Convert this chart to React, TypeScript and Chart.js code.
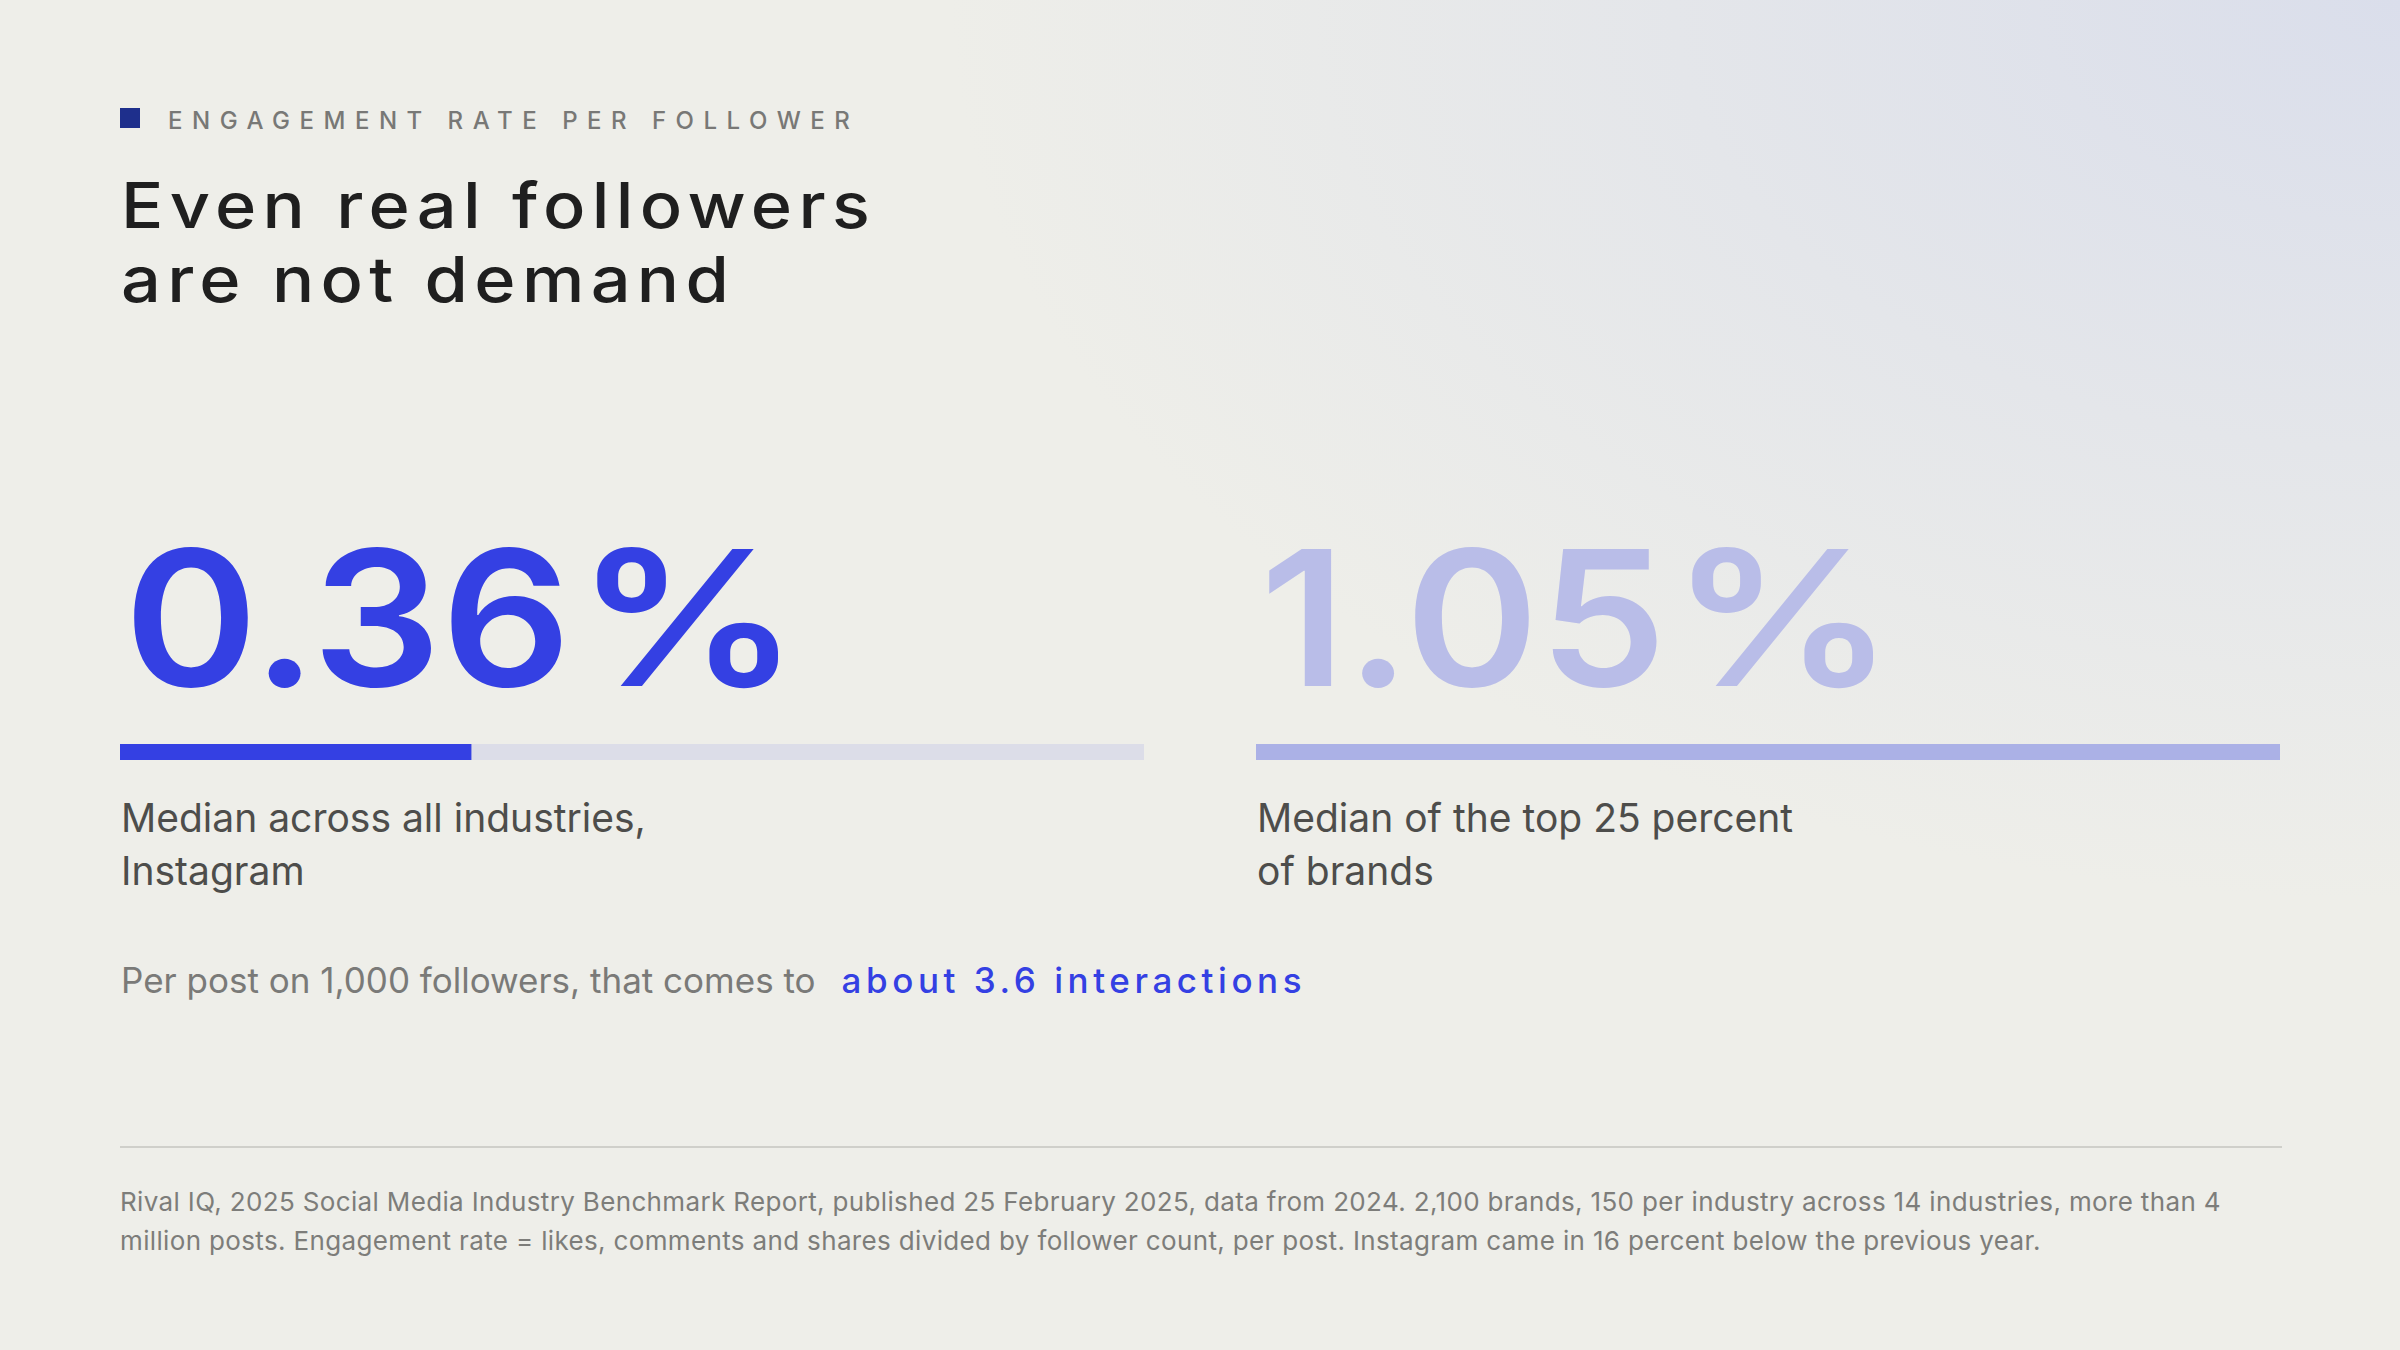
import { useEffect, useRef } from "react";
import { Chart, registerables } from "chart.js";

Chart.register(...registerables);

// data
const eyebrow = "ENGAGEMENT RATE PER FOLLOWER";
const titleLines = ["Even real followers", "are not demand"];
const metricLabels = [
  ["Median across all industries,", "Instagram"],
  ["Median of the top 25 percent", "of brands"],
];
const rates = [0.36, 1.05]; // engagement rate per post, percent
const scaleMax = 1.05; // bars are scaled to the top-quartile median
const interactionsPer1000 = 3.6;
const footnoteLines = [
  "Rival IQ, 2025 Social Media Industry Benchmark Report, published 25 February 2025, data from 2024. 2,100 brands, 150 per industry across 14 industries, more than 4",
  "million posts. Engagement rate = likes, comments and shares divided by follower count, per post. Instagram came in 16 percent below the previous year.",
];

const BLUE = "#3440e3";
const fillColors = [BLUE, "#abb1e6"];
const numberColors = [BLUE, "#b9bde8"];
const TRACK = "#dcdde8";
const FONT = "Inter, 'Noto Sans', sans-serif";

function RateBar({ value, color }) {
  const canvasRef = useRef(null);
  const chartRef = useRef(null);

  useEffect(() => {
    const ctx = canvasRef.current?.getContext("2d");
    chartRef.current = new Chart(ctx, {
      type: "bar",
      data: {
        labels: ["rate"],
        datasets: [
          {
            data: [value],
            backgroundColor: color,
            borderWidth: 0,
            grouped: false,
            order: 0,
            barPercentage: 1,
            categoryPercentage: 1,
          },
          {
            data: [scaleMax],
            backgroundColor: TRACK,
            borderWidth: 0,
            grouped: false,
            order: 1,
            barPercentage: 1,
            categoryPercentage: 1,
          },
        ],
      },
      options: {
        indexAxis: "y",
        animation: false,
        responsive: true,
        maintainAspectRatio: false,
        layout: { padding: 0 },
        plugins: { legend: { display: false }, tooltip: { enabled: false } },
        scales: {
          x: { display: false, min: 0, max: scaleMax },
          y: { display: false },
        },
      },
    });
    return () => {
      chartRef.current.destroy();
    };
  }, []);

  return (
    <div style={{ position: "relative", width: 1024, height: 16 }}>
      <canvas ref={canvasRef} />
    </div>
  );
}

export default function App() {
  const columns = [120, 1256];

  return (
    <div
      style={{
        position: "absolute",
        left: 0,
        top: 0,
        width: 2400,
        height: 1350,
        overflow: "hidden",
        fontFamily: FONT,
        background:
          "radial-gradient(ellipse 1450px 900px at 100% 0%, #dadeeb 0%, rgba(238,238,233,0) 100%), #eeeee9",
      }}
    >
      {/* eyebrow */}
      <div style={{ position: "absolute", left: 120, top: 108, width: 20, height: 20, background: "#1e2f8c" }} />
      <div
        style={{
          position: "absolute",
          left: 168,
          top: 109,
          fontSize: 24,
          lineHeight: "24px",
          letterSpacing: "9.5px",
          color: "#787876",
          fontWeight: 500,
          whiteSpace: "nowrap",
        }}
      >
        {eyebrow}
      </div>

      {/* title */}
      <div
        style={{
          position: "absolute",
          left: 121,
          top: 168,
          fontSize: 63,
          lineHeight: "74px",
          letterSpacing: "0.09em",
          color: "#1f1f1f",
          fontWeight: 500,
          whiteSpace: "nowrap",
          transform: "scaleX(1.115)",
          transformOrigin: "0 0",
        }}
      >
        {titleLines.map((l) => (
          <div key={l}>{l}</div>
        ))}
      </div>

      {rates.map((r, i) => (
        <div key={i}>
          <div
            style={{
              position: "absolute",
              left: columns[i] + 4,
              top: 524,
              fontSize: 188,
              lineHeight: "188px",
              fontWeight: 600,
              color: numberColors[i],
              whiteSpace: "nowrap",
              transform: "scaleX(1.08)",
              transformOrigin: "0 0",
            }}
          >
            {r.toFixed(2)}
            <span style={{ marginLeft: 4, display: "inline-block", transform: "scaleX(1.1)", transformOrigin: "0 0" }}>%</span>
          </div>
          <div style={{ position: "absolute", left: columns[i], top: 744 }}>
            <RateBar value={r} color={fillColors[i]} />
          </div>
          <div
            style={{
              position: "absolute",
              left: columns[i] + 1,
              top: 791,
              fontSize: 39,
              lineHeight: "53px",
              color: "#4d4d4b",
              whiteSpace: "nowrap",
            }}
          >
            {metricLabels[i].map((l) => (
              <div key={l}>{l}</div>
            ))}
          </div>
        </div>
      ))}

      {/* per-post line */}
      <div
        style={{
          position: "absolute",
          left: 121,
          top: 963,
          fontSize: 35,
          lineHeight: "35px",
          color: "#7a7a78",
          whiteSpace: "nowrap",
        }}
      >
        Per post on 1,000 followers, that comes to
        <span style={{ marginLeft: 26, color: BLUE, fontWeight: 500, letterSpacing: "0.13em" }}>
          about {interactionsPer1000} interactions
        </span>
      </div>

      {/* divider */}
      <div style={{ position: "absolute", left: 120, top: 1146, width: 2162, height: 2, background: "#cfcfca" }} />

      {/* footnote */}
      <div
        style={{
          position: "absolute",
          left: 120,
          top: 1182,
          fontSize: 26,
          lineHeight: "39px",
          letterSpacing: "0.35px",
          color: "#7d7d7a",
          whiteSpace: "nowrap",
        }}
      >
        {footnoteLines.map((l) => (
          <div key={l}>{l}</div>
        ))}
      </div>
    </div>
  );
}
